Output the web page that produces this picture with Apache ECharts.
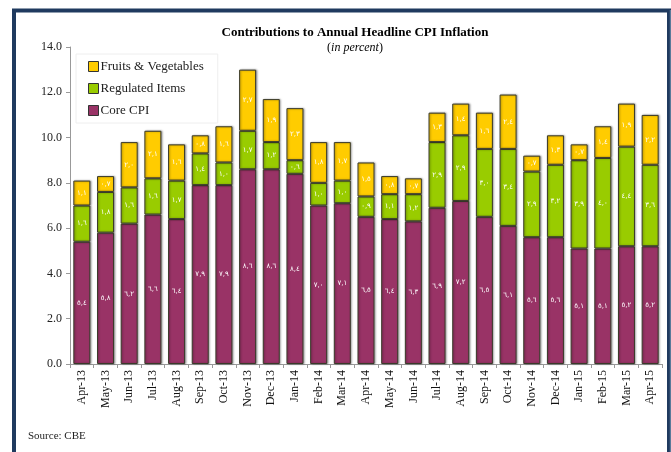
<!DOCTYPE html>
<html>
<head>
<meta charset="utf-8">
<script src="https://cdn.jsdelivr.net/npm/echarts@6/dist/echarts.min.js"></script>
<style>html,body{margin:0;padding:0;background:#fff}#c{width:671px;height:452px}</style>
</head>
<body>
<div id="c"></div>
<script>
const categories = ['Apr-13','May-13','Jun-13','Jul-13','Aug-13','Sep-13','Oct-13','Nov-13','Dec-13','Jan-14','Feb-14','Mar-14','Apr-14','May-14','Jun-14','Jul-14','Aug-14','Sep-14','Oct-14','Nov-14','Dec-14','Jan-15','Feb-15','Mar-15','Apr-15'];
const coreCPI = [5.4,5.8,6.2,6.6,6.4,7.9,7.9,8.6,8.6,8.4,7.0,7.1,6.5,6.4,6.3,6.9,7.2,6.5,6.1,5.6,5.6,5.1,5.1,5.2,5.2];
const regulated = [1.6,1.8,1.6,1.6,1.7,1.4,1.0,1.7,1.2,0.6,1.0,1.0,0.9,1.1,1.2,2.9,2.9,3.0,3.4,2.9,3.2,3.9,4.0,4.4,3.6];
const fruitsVeg = [1.1,0.7,2.0,2.1,1.6,0.8,1.6,2.7,1.9,2.3,1.8,1.7,1.5,0.8,0.7,1.3,1.4,1.6,2.4,0.7,1.3,0.7,1.4,1.9,2.2];
const yTicks = [0,2,4,6,8,10,12,14];

const arabicDigits = '٠١٢٣٤٥٦٧٨٩';
function toArabic(v){
  return v.toFixed(1).replace(/\d/g, d => arabicDigits[+d]).replace('.', ',');
}
const serif = "'Liberation Serif', 'DejaVu Serif', serif";
const labelCfg = {
  show: true, position: 'inside', color: '#fff', fontSize: 7,
  fontFamily: "'DejaVu Sans', sans-serif",
  formatter: p => toArabic(p.value)
};
const itemBase = { borderColor: '#3a3a2a', borderWidth: 1, shadowColor: 'rgba(0,0,0,0.35)', shadowBlur: 2, shadowOffsetX: 1, shadowOffsetY: 0 };

const chart = echarts.init(document.getElementById('c'), null, {renderer: 'canvas'});
chart.setOption({
  animation: false,
  backgroundColor: '#fff',
  title: {
    text: 'Contributions to Annual Headline CPI Inflation',
    subtext: '({i|in percent})',
    left: 350, top: 21, textAlign: 'center', itemGap: 3,
    textStyle: { fontFamily: serif, fontSize: 13, fontWeight: 'bold', color: '#000' },
    subtextStyle: { fontFamily: serif, fontSize: 12, color: '#000',
      rich: { i: { fontFamily: serif, fontSize: 12, fontStyle: 'italic', color: '#000' } } }
  },
  legend: {
    data: ['Fruits & Vegetables','Regulated Items','Core CPI'],
    orient: 'vertical', left: 76, top: 54,
    itemWidth: 10, itemHeight: 10, itemGap: 9,
    backgroundColor: '#fff', borderColor: '#eeeeee', borderWidth: 1,
    padding: [6, 14, 6, 12],
    textStyle: { fontFamily: serif, fontSize: 13, color: '#222', padding: [0,0,0,-3] },
    icon: 'rect',
    itemStyle: { borderColor: '#333', borderWidth: 1 }
  },
  grid: { left: 70, right: 9, top: 47, bottom: 88 },
  xAxis: {
    type: 'category', data: categories,
    axisLine: { lineStyle: { color: '#999' } },
    axisTick: { show: true, alignWithLabel: false, length: 4, lineStyle: { color: '#999' } },
    axisLabel: { rotate: 90, fontFamily: serif, fontSize: 12, color: '#111', margin: 6, interval: 0 }
  },
  yAxis: {
    type: 'value', min: yTicks[0], max: yTicks[yTicks.length-1], interval: 2,
    axisLine: { show: true, lineStyle: { color: '#999' } },
    axisTick: { show: true, inside: false, length: 4, lineStyle: { color: '#999' } },
    splitLine: { show: false },
    axisLabel: { fontFamily: serif, fontSize: 12, color: '#222', margin: 8, formatter: v => v.toFixed(1) }
  },
  series: [
    { name: 'Core CPI', type: 'bar', stack: 's', data: coreCPI, barWidth: 17,
      itemStyle: Object.assign({ color: '#993366' }, itemBase), label: labelCfg },
    { name: 'Regulated Items', type: 'bar', stack: 's', data: regulated, barWidth: 17,
      itemStyle: Object.assign({ color: '#99cc00' }, itemBase), label: labelCfg },
    { name: 'Fruits & Vegetables', type: 'bar', stack: 's', data: fruitsVeg, barWidth: 17,
      itemStyle: Object.assign({ color: '#ffcc00' }, itemBase), label: labelCfg }
  ],
  graphic: [
    { type: 'rect', shape: { x: 14, y: 10.5, width: 655, height: 450 }, silent: true, z: 100,
      style: { fill: 'none', stroke: '#1f3a5f', lineWidth: 4 } },
    { type: 'line', shape: { x1: 670.5, y1: 10, x2: 670.5, y2: 452 }, silent: true, z: 101,
      style: { stroke: '#5a7a99', lineWidth: 1.5 } },
    { type: 'text', left: 28, top: 431, silent: true,
      style: { text: 'Source: CBE', fontFamily: serif, fontSize: 11, fill: '#222' } }
  ]
});
</script>
</body>
</html>
